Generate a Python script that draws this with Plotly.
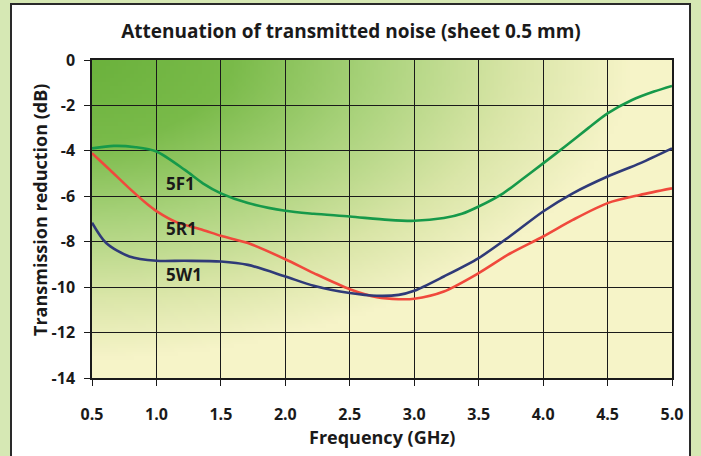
import zlib, struct, base64
import numpy as np
import plotly.graph_objects as go

# ---------------- data ----------------
series_names = ["5F1", "5R1", "5W1"]

x_5f1 = [0.5, 0.67, 0.84, 1.0, 1.22, 1.36, 1.5, 1.71, 2.0, 2.22, 2.5, 2.8, 3.0, 3.23, 3.37, 3.5, 3.69, 3.83, 4.0, 4.17, 4.35, 4.5, 4.69, 4.86, 5.0]
y_5f1 = [-3.89, -3.78, -3.84, -4.03, -4.84, -5.43, -5.87, -6.3, -6.64, -6.77, -6.89, -7.04, -7.08, -6.96, -6.77, -6.45, -5.87, -5.28, -4.55, -3.81, -3.0, -2.35, -1.76, -1.39, -1.14]

x_5r1 = [0.5, 0.64, 0.79, 0.93, 1.0, 1.16, 1.36, 1.5, 1.71, 2.0, 2.22, 2.5, 2.71, 2.88, 3.0, 3.23, 3.5, 3.74, 4.0, 4.23, 4.5, 4.75, 5.0]
y_5r1 = [-4.1, -4.84, -5.65, -6.35, -6.65, -7.15, -7.48, -7.74, -8.06, -8.77, -9.38, -10.09, -10.44, -10.53, -10.51, -10.19, -9.38, -8.53, -7.77, -7.04, -6.3, -5.94, -5.65]

x_5w1 = [0.5, 0.61, 0.79, 1.0, 1.22, 1.5, 1.71, 2.0, 2.22, 2.5, 2.71, 2.88, 3.0, 3.23, 3.5, 3.74, 4.0, 4.23, 4.5, 4.75, 5.0]
y_5w1 = [-7.16, -8.06, -8.65, -8.84, -8.84, -8.87, -9.02, -9.53, -9.94, -10.26, -10.38, -10.34, -10.16, -9.53, -8.72, -7.77, -6.67, -5.87, -5.13, -4.55, -3.89]

x_tickvals = [0.5, 1.0, 1.5, 2.0, 2.5, 3.0, 3.5, 4.0, 4.5, 5.0]
x_ticktext = ["0.5", "1.0", "1.5", "2.0", "2.5", "3.0", "3.5", "4.0", "4.5", "5.0"]
y_tickvals = [0, -2, -4, -6, -8, -10, -12, -14]
y_ticktext = ["0", "-2", "-4", "-6", "-8", "-10", "-12", "-14"]

label_x = [1.06, 1.06, 1.06]
label_y = [-5.45, -7.4, -9.46]

title_text = "Attenuation of transmitted noise (sheet 0.5 mm)"
x_title = "Frequency (GHz)"
y_title = "Transmission reduction (dB)"

# ---------------- style ----------------
W, H = 701, 456
ML, MR, MT, MB = 92, 29, 60, 78
PW, PH = W - ML - MR, H - MT - MB
FONT = "'Open Sans', Lato, sans-serif"
TXT = "#1a1a1a"
colors = ["#16994a", "#f0493c", "#2f3a78"]
OUTER = "#d6e8b4"


def px2x(px):
    return (px - ML) / PW


def py2y(py):
    return (H - MB - py) / PH


# background gradient image (style only)
def gradient_png(w, h):
    xs = np.linspace(0, PW, w)
    ys = np.linspace(0, PH, h)
    X, Y = np.meshgrid(xs, ys)
    d = np.sqrt(((X + 30) / 570.0) ** 2 + ((Y + 10) / 310.0) ** 2)
    t = np.clip(d, 0, 1)
    stops = np.array([0.0, 0.3, 0.55, 0.8, 1.0])
    cols = np.array([
        [104, 176, 58],
        [122, 187, 74],
        [170, 211, 124],
        [218, 230, 168],
        [246, 244, 200],
    ], dtype=float)
    img = np.zeros((h, w, 3))
    for c in range(3):
        img[..., c] = np.interp(t, stops, cols[:, c])
    img = img.astype(np.uint8)
    raw = b"".join(b"\x00" + img[r].tobytes() for r in range(h))

    def chunk(tag, data):
        return struct.pack(">I", len(data)) + tag + data + struct.pack(">I", zlib.crc32(tag + data) & 0xffffffff)

    png = (b"\x89PNG\r\n\x1a\n"
           + chunk(b"IHDR", struct.pack(">IIBBBBB", w, h, 8, 2, 0, 0, 0))
           + chunk(b"IDAT", zlib.compress(raw, 9))
           + chunk(b"IEND", b""))
    return "data:image/png;base64," + base64.b64encode(png).decode()


fig = go.Figure()
for name, xs, ys, col in zip(series_names, [x_5f1, x_5r1, x_5w1], [y_5f1, y_5r1, y_5w1], colors):
    fig.add_trace(go.Scatter(x=xs, y=ys, mode="lines", name=name,
                             line=dict(color=col, width=2.6, shape="spline", smoothing=0.8),
                             hoverinfo="skip"))

for name, lx, ly in zip(series_names, label_x, label_y):
    fig.add_annotation(x=lx, y=ly, xref="x", yref="y", text="<b>%s</b>" % name,
                       showarrow=False, xanchor="left", yanchor="middle",
                       font=dict(family=FONT, size=17, color=TXT))

fig.add_layout_image(dict(source=gradient_png(145, 80), xref="x", yref="y",
                          x=0.5, y=0, sizex=4.5, sizey=14, sizing="stretch",
                          xanchor="left", yanchor="top", layer="below"))

# outer frame
shapes = []
for x0, x1, y0, y1 in [(0, 11, 0, H + 5), (690, W, 0, H + 5), (0, W, 0, 4)]:
    shapes.append(dict(type="rect", xref="paper", yref="paper",
                       x0=px2x(x0), x1=px2x(x1), y0=py2y(y1), y1=py2y(y0),
                       fillcolor=OUTER, line=dict(width=0), layer="below"))
shapes.append(dict(type="rect", xref="paper", yref="paper",
                   x0=px2x(11), x1=px2x(690), y0=py2y(H + 10), y1=py2y(4),
                   fillcolor="rgba(0,0,0,0)", line=dict(color="#2a2a2a", width=2), layer="below"))
fig.update_layout(shapes=shapes)

fig.add_annotation(xref="paper", yref="paper", x=px2x(40), y=py2y(210),
                   text="<b>%s</b>" % y_title, textangle=-90, showarrow=False,
                   xanchor="center", yanchor="middle",
                   font=dict(family=FONT, size=18, color=TXT))
fig.add_annotation(xref="paper", yref="paper", x=px2x(382), y=py2y(437),
                   text="<b>%s</b>" % x_title, showarrow=False,
                   xanchor="center", yanchor="middle",
                   font=dict(family=FONT, size=18, color=TXT))

fig.update_layout(
    width=W, height=H,
    margin=dict(l=ML, r=MR, t=MT, b=MB, pad=0),
    paper_bgcolor="white",
    plot_bgcolor="rgba(0,0,0,0)",
    showlegend=False,
    title=dict(text="<b>%s</b>" % title_text, x=351 / W, xref="container", xanchor="center",
               y=1 - 31 / H, yref="container", yanchor="middle",
               font=dict(family=FONT, size=19, color=TXT)),
    xaxis=dict(range=[0.5, 5.0], tickvals=x_tickvals, ticktext=x_ticktext,
               showgrid=True, gridcolor="#1a1a1a", gridwidth=1.3,
               showline=True, linecolor="#1a1a1a", linewidth=1.5, mirror=True,
               ticks="outside", ticklen=6, tickcolor="#1a1a1a", tickwidth=1,
               ticklabelstandoff=15, zeroline=False,
               tickfont=dict(family=FONT, size=16, color=TXT, weight="bold")),
    yaxis=dict(range=[-14, 0], tickvals=y_tickvals, ticktext=y_ticktext,
               showgrid=True, gridcolor="#1a1a1a", gridwidth=1.3,
               showline=True, linecolor="#1a1a1a", linewidth=1.5, mirror=True,
               ticks="outside", ticklen=6, tickcolor="#1a1a1a", tickwidth=1,
               ticklabelstandoff=6, zeroline=False,
               tickfont=dict(family=FONT, size=16, color=TXT, weight="bold")),
)

fig.write_html("out.html", config={"displayModeBar": False},
               post_script="document.body.style.margin='0';document.body.style.padding='0';")
